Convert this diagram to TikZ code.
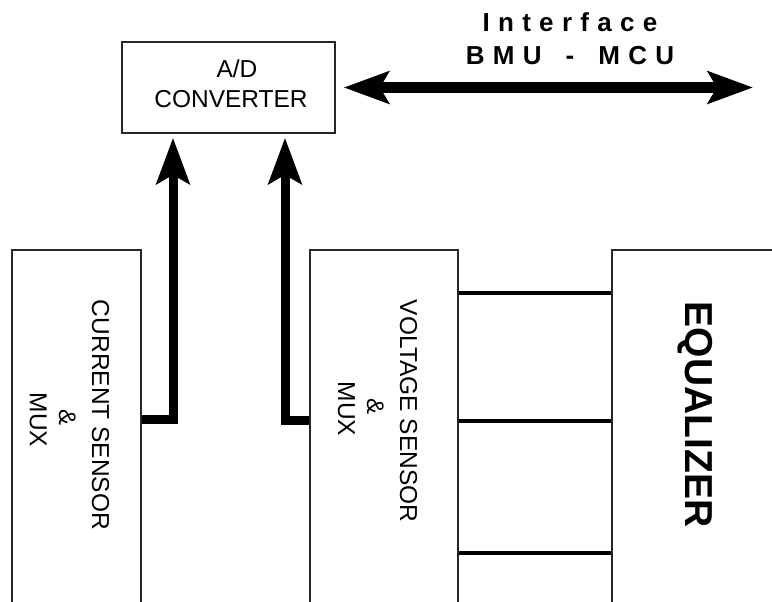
\documentclass[tikz,border=0pt]{standalone}
\usepackage{fontspec}
\setmainfont{Liberation Sans}
\newfontfamily\spacedfont[LetterSpace=32]{Liberation Sans}
\usetikzlibrary{arrows.meta}
\begin{document}
\begin{tikzpicture}[x=1pt,y=-1pt,
  box/.style={draw=black!85, line width=1.6pt, rectangle, inner sep=0pt},
  lbl/.style={font=\fontsize{24.5}{28}\selectfont, inner sep=0pt, anchor=base},
  amp/.style={font=\fontsize{24}{28}\selectfont, inner sep=0pt, anchor=base},
  eqlbl/.style={font=\bfseries\fontsize{39}{44}\selectfont, inner sep=0pt, anchor=base},
  iflbl/.style={font=\spacedfont\bfseries\fontsize{26}{30}\selectfont, inner sep=0pt, anchor=base},
  sig/.style={line width=9pt, shorten >=4pt, -{Stealth[length=46pt,width=33pt,inset=9pt]}},
  bus/.style={line width=11pt, {Stealth[length=45pt,width=32pt,inset=9pt]}-{Stealth[length=45pt,width=32pt,inset=9pt]}},
  link/.style={line width=4pt}]
\clip (0,0) rectangle (772,602);
\fill[white] (0,0) rectangle (772,602);
% boxes
\node[box, minimum width=213pt, minimum height=91pt] (ad) at (228.5,87.5) {};
\node[box, minimum width=129pt, minimum height=380pt] (cur) at (76.5,440) {};
\node[box, minimum width=148pt, minimum height=380pt] (volt) at (384,440) {};
\node[box, minimum width=190pt, minimum height=380pt] (equ) at (707,440) {};
% texts
\node[lbl] (adt1) at (237,78) {A/D};
\node[lbl] (adt2) at (231,108) {CONVERTER};
\node[lbl, rotate=-90] (curt) at (92,415) {CURRENT SENSOR};
\node[amp, rotate=-90] (cura) at (59,418) {\&};
\node[lbl, rotate=-90] (curm) at (30,420) {MUX};
\node[lbl, rotate=-90] (voltt) at (400,411) {VOLTAGE SENSOR};
\node[amp, rotate=-90] (volta) at (367,407) {\&};
\node[lbl, rotate=-90] (voltm) at (338,409) {MUX};
\node[eqlbl, rotate=-90] (equt) at (685,414.5) {EQUALIZER};
\node[iflbl] (if1) at (570,32) {Interface};
\node[iflbl] (if2) at (570,65) {BMU\hspace{24pt}-\hspace{24pt}MCU};
% connectors
\coordinate (mcu) at (753,87.5);
\draw[sig] (cur.east |- 0,419) -| (ad.south -| 173,0);
\draw[sig] (volt.west |- 0,420) -| (ad.south -| 285,0);
\draw[bus] ([xshift=8pt]ad.east) -- (mcu);
\foreach \yy in {293,421,553}
  \draw[link] (volt.east |- 0,\yy) -- (equ.west |- 0,\yy);
\end{tikzpicture}
\end{document}
